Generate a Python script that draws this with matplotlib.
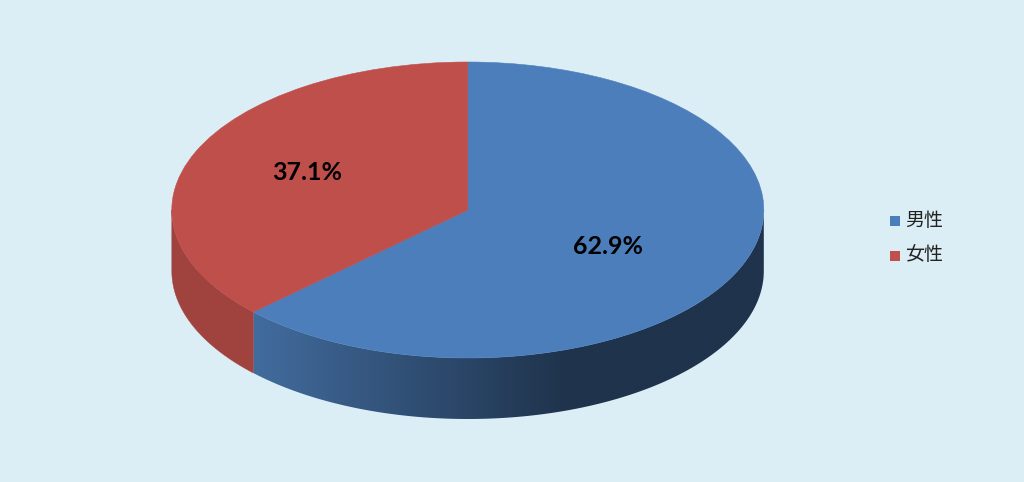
import numpy as np
import matplotlib
matplotlib.use('Agg')
import matplotlib.pyplot as plt
from matplotlib.patches import Polygon

plt.rcParams['font.family'] = ['Noto Sans CJK JP', 'DejaVu Sans']

# Data
labels = ['男性', '女性']
shares = [62.9, 37.1]
percent_labels = ['62.9%', '37.1%']

# Colours
bg_color = '#DCEEF5'
top_colors = ['#4C7EBB', '#BF4F4B']
legend_colors = ['#4A7EBB', '#C0504D']
red_wall = '#A0433F'
blue_wall_left = np.array([0x42, 0x6C, 0x9E]) / 255
blue_wall_right = np.array([0x1F, 0x33, 0x4C]) / 255

# Pie geometry in pixels
W, H = 1024, 482
cx, cy = 467.8, 210
rx, ry = 296, 148
depth = 61 / ry

fig = plt.figure(figsize=(W / 100, H / 100), dpi=100, facecolor=bg_color)
ax = fig.add_axes([0, 0, 1, 1])

wedges, _ = ax.pie(shares, startangle=90, counterclock=False, colors=top_colors,
                   radius=1, center=(0, 0),
                   wedgeprops={'linewidth': 0.4, 'zorder': 3})
for w, col in zip(wedges, top_colors):
    w.set_edgecolor(col)
ax.set_aspect('auto')


def wall(t0, t1):
    # outline of the disc side between two angles, clockwise from the top
    tt = np.linspace(t0, t1, 200)
    xs, ys = np.sin(tt), np.cos(tt)
    return np.column_stack([np.r_[xs, xs[::-1]], np.r_[ys, ys[::-1] - depth]])


split = shares[0] / sum(shares) * 2 * np.pi

# blue side: shading follows x, dark from a little right of centre
x_start = np.sin(split)
col_x = np.linspace(x_start, 1, 600)
f = np.clip((col_x - x_start) / (0.33 - x_start), 0, 1)[None, :, None]
grad = blue_wall_left[None, None, :] + (blue_wall_right - blue_wall_left)[None, None, :] * f
im = ax.imshow(grad, extent=(x_start, 1, -1 - depth, 0), aspect='auto', zorder=1,
               interpolation='bilinear')
blue_patch = Polygon(wall(np.pi / 2, split), closed=True, transform=ax.transData, fc='none', ec='none')
ax.add_patch(blue_patch)
im.set_clip_path(blue_patch)

# red side
ax.add_patch(Polygon(wall(split, 3 * np.pi / 2), closed=True, fc=red_wall, ec=red_wall, lw=0.3, zorder=1))

ax.set_xlim(-cx / rx, (W - cx) / rx)
ax.set_ylim((cy - H) / ry, cy / ry)
ax.axis('off')

# Percent labels
label_pos = [(608, 246), (307, 172)]
for txt, (px, py) in zip(percent_labels, label_pos):
    ax.text((px - cx) / rx, (cy - py) / ry, txt, family=['Lato', 'DejaVu Sans'],
            fontweight='bold', fontsize=18, color='black', ha='center', va='center', zorder=5)

# Legend
legend_y = [220, 255]
for lab, col, py in zip(labels, legend_colors, legend_y):
    ax.plot((895 - cx) / rx, (cy - py - 1) / ry, marker='s', ms=7, mew=0, color=col, ls='none', zorder=5)
    ax.text((905 - cx) / rx, (cy - py) / ry, lab, fontsize=13.7, color='#222222',
            ha='left', va='center', zorder=5)

plt.savefig('out.png', dpi=100, facecolor=bg_color)
